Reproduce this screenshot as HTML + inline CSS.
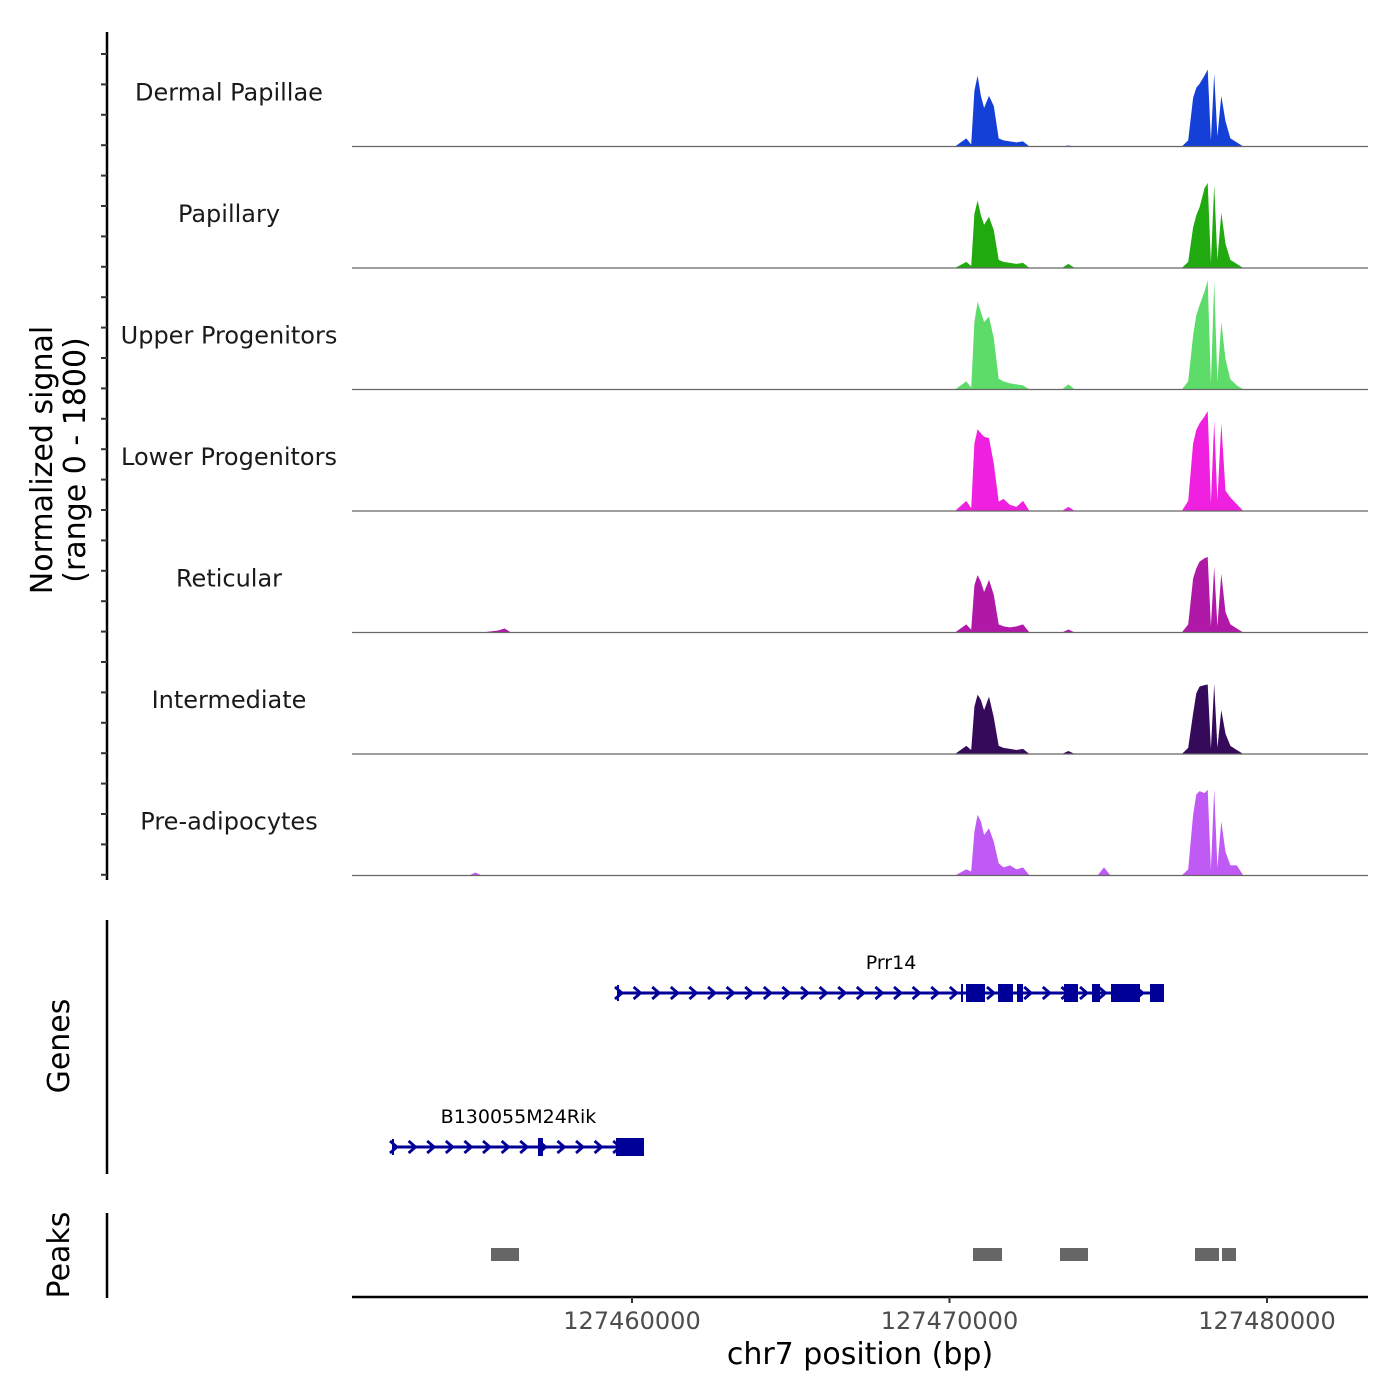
<!DOCTYPE html>
<html><head><meta charset="utf-8"><style>
body{margin:0;background:#fff}
svg{display:block;font-family:"DejaVu Sans","Liberation Sans",sans-serif}
</style></head><body>
<svg id="chart" width="1400" height="1400" viewBox="0 0 1400 1400" xmlns="http://www.w3.org/2000/svg"></svg>
<script>
// ---- data ----
const trackNames = ["Dermal Papillae","Papillary","Upper Progenitors","Lower Progenitors","Reticular","Intermediate","Pre-adipocytes"];
const trackColors = ["#1540d8","#20aa10","#5ddc6a","#f020e0","#b018a8","#350a5a","#bf5af5"];
// positions in kb relative to 127460000
const positionsKb = [-8.809,-5.135,-4.931,-4.727,-4.217,-4.013,-3.809,
 10.172,10.529,10.682,10.784,10.886,10.988,11.090,11.243,11.396,11.549,11.702,11.907,12.111,12.315,12.519,
 13.539,13.744,13.948, 14.662,14.866,15.070,
 17.315,17.519,17.672,17.774,17.876,18.030,18.132,18.234,18.336,18.438,18.560,18.693,18.846,19.050,19.254, 23.234];
const dermalValues = [0,0,0,0,0,0,0, 0,120,30,825,1050,750,570,750,600,120,90,75,60,75,0, 0,15,0, 0,0,0, 0,90,720,870,930,1050,1140,90,1080,150,750,375,120,60,0, 0];
const papillaryValues = [0,0,0,0,0,0,0, 0,90,30,800,1000,780,640,760,560,120,90,75,60,75,0, 0,60,0, 0,0,0, 0,90,600,780,900,1180,1260,75,1230,120,820,360,120,60,0, 0];
const upperValues = [0,0,0,0,0,0,0, 0,120,30,1000,1300,1150,1000,1080,760,160,120,90,75,60,0, 0,75,0, 0,0,0, 0,120,800,1100,1250,1450,1620,90,1600,120,1000,450,150,60,0, 0];
const lowerValues = [0,0,0,0,0,0,0, 0,150,40,1000,1210,1150,1100,1080,700,140,180,90,60,150,0, 0,60,0, 0,0,0, 0,150,1000,1200,1300,1400,1480,120,1330,150,1300,300,200,100,0, 0];
const reticularValues = [0,0,0,0,30,60,0, 0,120,40,700,850,750,600,780,560,120,90,75,90,120,0, 0,45,0, 0,0,0, 0,120,800,950,1050,1100,1120,90,970,90,870,300,120,60,0, 0];
const intermediateValues = [0,0,0,0,0,0,0, 0,120,60,700,880,800,650,850,540,120,90,75,60,75,0, 0,45,0, 0,0,0, 0,90,600,900,1000,1020,1030,75,1040,90,650,300,120,60,0, 0];
const preadipValues = [0,0,45,0,0,0,0, 0,90,60,650,900,800,600,700,500,180,120,150,90,120,0, 0,0,0, 0,120,0, 0,90,900,1200,1250,1220,1270,90,1280,120,800,350,150,150,0, 0];
const seriesValues = [dermalValues,papillaryValues,upperValues,lowerValues,reticularValues,intermediateValues,preadipValues];
const xTicks = [127460000,127470000,127480000];
const geneNames = ["Prr14","B130055M24Rik"];
const geneStarts = [127459559,127452472];
const geneEnds = [127476756,127460378];
const geneExonStarts = [[127470362,127470520,127471528,127472126,127473606,127474488,127475087,127476315],[127457039,127459496]];
const geneExonEnds = [[127470425,127471118,127472000,127472315,127474047,127474740,127476000,127476756],[127457197,127460378]];
const peakStarts = [127455559,127470740,127473480,127477732,127478583];
const peakEnds = [127456441,127471654,127474362,127478488,127479024];

// ---- scales ----
const NS="http://www.w3.org/2000/svg";
const svg=document.getElementById('chart');
const xPx = bp => 632 + (bp-127460000)*0.03175;
const trackTop=25, trackH=121.5, yMax=1800;
function el(tag,attrs,parent){const e=document.createElementNS(NS,tag);for(const k in attrs)e.setAttribute(k,attrs[k]);(parent||svg).appendChild(e);return e;}

seriesValues.forEach((vals,i)=>{
  const base = trackTop + trackH*(i+1);
  const g=el('g',{});
  
  
  let d='M'+xPx(127460000+positionsKb[0]*1000)+','+base;
  positionsKb.forEach((p,j)=>{d+=' L'+xPx(127460000+p*1000).toFixed(1)+','+(base-vals[j]/yMax*trackH).toFixed(1);});
  d+=' L'+xPx(127460000+positionsKb[positionsKb.length-1]*1000)+','+base+' Z';
  const a=el('path',{d:d,fill:trackColors[i]},g);
  
  
  const b=el('line',{x1:352,x2:1368,y1:base,y2:base,stroke:'#666','stroke-width':1.2},g);
  
  
  const t=el('text',{x:229,y:base-46,'text-anchor':'middle','font-size':24,fill:'#1a1a1a'},g);
  t.textContent=trackNames[i];
  
  
});
const ya=el('line',{x1:107,x2:107,y1:32,y2:880,stroke:'#000','stroke-width':2.5});


for(let k=0;k<28;k++){
  const y=54+k*30.4;
  if(y>880)break;
  const tk=el('line',{x1:101,x2:107,y1:y,y2:y,stroke:'#333','stroke-width':2});
  
  
}
const yt=el('text',{transform:'translate(52,460) rotate(-90)','text-anchor':'middle','font-size':30,fill:'#000'});


yt.innerHTML='<tspan x="0" dy="0">Normalized signal</tspan><tspan x="0" dy="33">(range 0 - 1800)</tspan>';

const ga=el('line',{x1:107,x2:107,y1:920,y2:1174,stroke:'#000','stroke-width':2.5});


const gt=el('text',{transform:'translate(69,1046) rotate(-90)','text-anchor':'middle','font-size':30});
gt.textContent='Genes';


const geneY=[993,1147];
geneNames.forEach((n,i)=>{
  const g=el('g',{});
  
  
  const x1=xPx(geneStarts[i]),x2=xPx(geneEnds[i]),y=geneY[i];
  el('line',{x1:x1,x2:x2,y1:y,y2:y,stroke:'#000099','stroke-width':3},g);
  el('line',{x1:x1,x2:x1,y1:y-8,y2:y+8,stroke:'#000099','stroke-width':2},g);
  for(let x=x1+2;x<x2-4;x+=18.6){
    el('path',{d:`M${x-5},${y-6} L${x+2},${y} L${x-5},${y+6}`,stroke:'#000099','stroke-width':2.8,fill:'none'},g);
  }
  geneExonStarts[i].forEach((s,j)=>{
    const r=el('rect',{x:xPx(s),y:y-9,width:Math.max(2,xPx(geneExonEnds[i][j])-xPx(s)),height:18,fill:'#000099'},g);
    
    
  });
  const t=el('text',{x:(x1+x2)/2,y:y-24,'text-anchor':'middle','font-size':19,fill:'#000'},g);
  t.textContent=n;
  
  
});

const pa=el('line',{x1:107,x2:107,y1:1213,y2:1298,stroke:'#000','stroke-width':2.5});


const pt=el('text',{transform:'translate(69,1255) rotate(-90)','text-anchor':'middle','font-size':30});
pt.textContent='Peaks';


peakStarts.forEach((s,i)=>{
  const r=el('rect',{x:xPx(s),y:1248,width:xPx(peakEnds[i])-xPx(s),height:13,fill:'#666'});
  
  
});

const xa=el('line',{x1:352,x2:1368,y1:1297,y2:1297,stroke:'#000','stroke-width':2.5});


xTicks.forEach(v=>{
  const x=xPx(v);
  const tk=el('line',{x1:x,x2:x,y1:1297,y2:1303,stroke:'#333','stroke-width':2});
  
  
  const t=el('text',{x:x,y:1329,'text-anchor':'middle','font-size':24,fill:'#4d4d4d'});
  t.textContent=String(v);
  
  
});
const xt=el('text',{x:860,y:1364,'text-anchor':'middle','font-size':30,fill:'#000'});
xt.textContent='chr7 position (bp)';


</script>
</body></html>
